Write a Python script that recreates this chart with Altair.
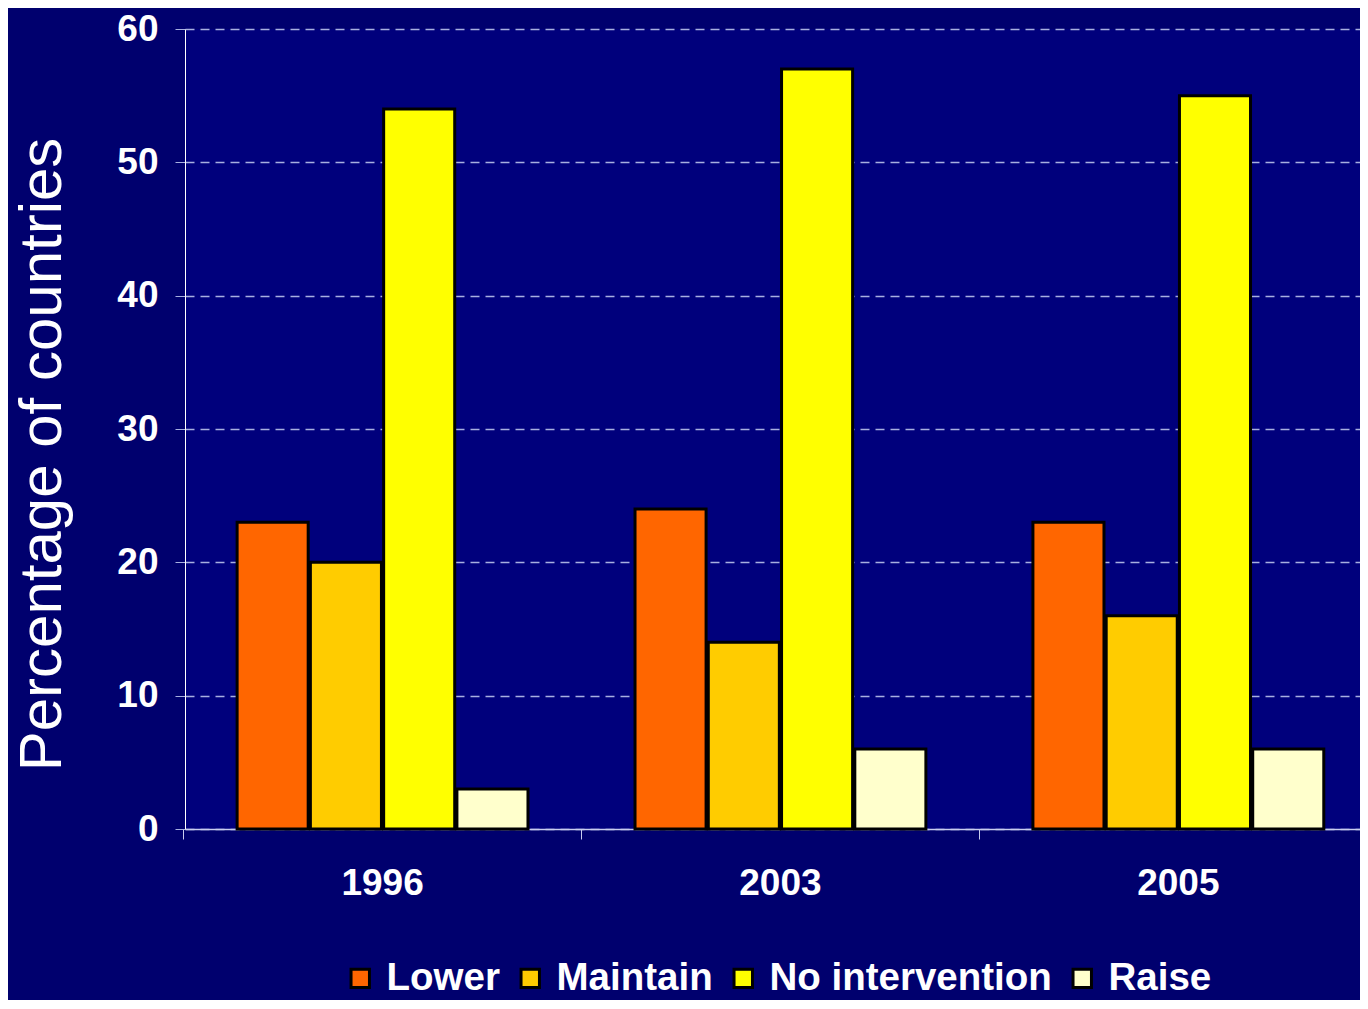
import altair as alt
import pandas as pd

years = ["1996", "2003", "2005"]
categories = ["Lower", "Maintain", "No intervention", "Raise"]
lower = [23, 24, 23]
maintain = [20, 14, 16]
no_intervention = [54, 57, 55]
raise_ = [3, 6, 6]
colors = ["#FF6600", "#FFCC00", "#FFFF00", "#FFFFCC"]
y_ticks = [0, 10, 20, 30, 40, 50, 60]

series = [lower, maintain, no_intervention, raise_]
rows = []
for cat, vals in zip(categories, series):
    for yr, v in zip(years, vals):
        rows.append({"Year": yr, "Category": cat, "Value": v})
df = pd.DataFrame(rows)

FONT = "Liberation Sans"

bars = alt.Chart(df).mark_bar(stroke="black", strokeWidth=3).encode(
    x=alt.X(
        "Year:N",
        sort=years,
        scale=alt.Scale(paddingInner=0.269, paddingOuter=0.111, align=0.59),
        axis=alt.Axis(
            title=None,
            labelAngle=0,
            labelFont=FONT,
            labelFontSize=37,
            labelFontWeight="bold",
            labelColor="white",
            labelPadding=26,
            bandPosition=-0.184,
            tickSize=10,
            tickColor="#C8CCEE",
            domainColor="#C8CCEE",
            domainWidth=1.5,
            grid=False,
        ),
    ),
    xOffset=alt.XOffset("Category:N", sort=categories, scale=alt.Scale(paddingInner=0.03)),
    y=alt.Y(
        "Value:Q",
        scale=alt.Scale(domain=[0, 60]),
        axis=alt.Axis(
            title="Percentage of countries",
            values=y_ticks,
            labelFont=FONT,
            labelFontSize=37,
            labelFontWeight="bold",
            labelColor="white",
            labelPadding=17,
            tickSize=10,
            tickColor="#A8B0E0",
            domainColor="white",
            domainWidth=1,
            grid=True,
            gridColor="#A8B0E0",
            gridDash=[9, 6],
            gridWidth=1.3,
            titleFont=FONT,
            titleFontSize=60,
            titleFontWeight="normal",
            titleColor="white",
            titleAngle=270,
            titleAlign="center",
            titleBaseline="middle",
            titleX=-143,
            titleY=425,
        ),
    ),
    color=alt.Color(
        "Category:N",
        sort=categories,
        scale=alt.Scale(domain=categories, range=colors),
        legend=alt.Legend(
            title=None,
            orient="none",
            direction="horizontal",
            legendX=156,
            legendY=930,
            symbolType="square",
            symbolSize=340,
            symbolStrokeColor="black",
            symbolStrokeWidth=3,
            symbolOpacity=1,
            labelFont=FONT,
            labelFontSize=38.5,
            labelFontWeight="bold",
            labelColor="white",
            labelOffset=7,
            labelLimit=500,
            columnPadding=11,
            padding=0,
        ),
    ),
)

chart = bars.properties(
    width=1175,
    height=800,
    autosize=alt.AutoSizeParams(type="none"),
    padding={"left": 177, "top": 21, "right": 0, "bottom": 171},
    background="#00006E",
).configure_view(
    stroke=None,
    fill="#00007C",
)

chart.save("out.html", embed_options={"renderer": "svg", "actions": False})
